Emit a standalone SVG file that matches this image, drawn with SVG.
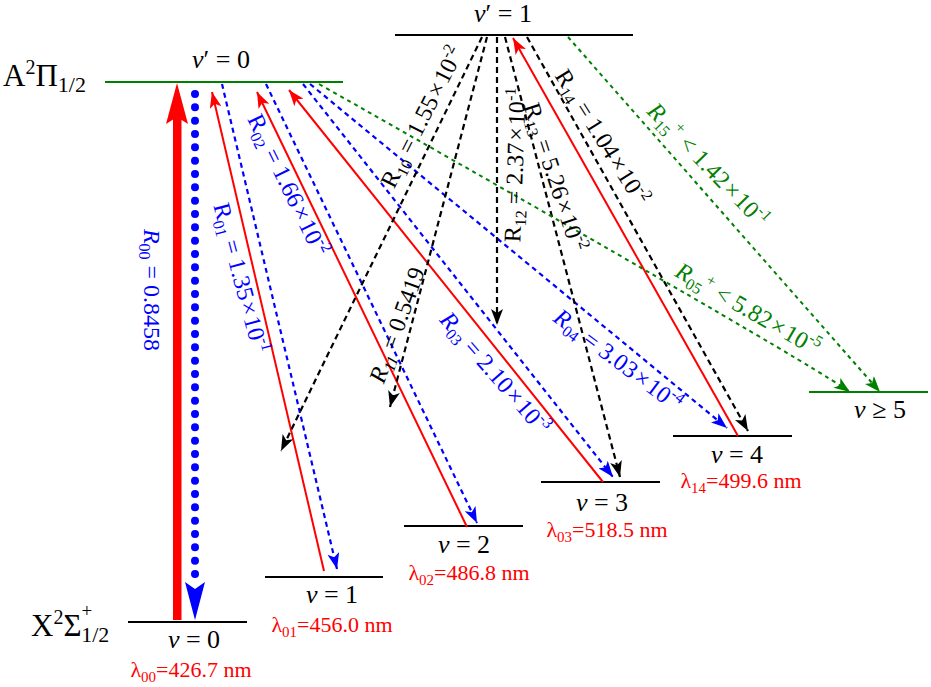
<svg xmlns="http://www.w3.org/2000/svg" width="931" height="687" viewBox="0 0 931 687" font-family="'Liberation Serif', 'DejaVu Serif', serif">
<style>
text, tspan { font-family: 'Liberation Serif', 'DejaVu Serif', serif; }
.lvk { stroke: #000; stroke-width: 2; fill: none; }
.lvg { stroke: #008000; stroke-width: 2; fill: none; }
.lab { font-size: 26px; text-anchor: middle; fill: #000; }
.wl { font-size: 22px; text-anchor: middle; fill: #ff0000; }
.rl { font-size: 24px; text-anchor: middle; }
.cb { fill: #0000ff; }
.ck { fill: #000; }
.cg { fill: #008000; }
.st { font-size: 31px; fill: #000; }
.rd { stroke: #ff0000; stroke-width: 2; fill: none; marker-end: url(#aR); }
.bd { stroke: #0000ff; stroke-width: 2.2; stroke-dasharray: 5 4; fill: none; marker-end: url(#aB); }
.kd { stroke: #000; stroke-width: 2.2; stroke-dasharray: 6 4; fill: none; marker-end: url(#aK); }
.gd { stroke: #008000; stroke-width: 2; stroke-dasharray: 4 4; fill: none; marker-end: url(#aG); }
</style>
<defs>
<marker id="aR" viewBox="0 0 16 12" refX="16" refY="6" markerWidth="17" markerHeight="12" orient="auto" markerUnits="userSpaceOnUse"><path d="M0,0 L16,6 L0,12 L4,6 Z" fill="#ff0000"/></marker>
<marker id="aB" viewBox="0 0 16 12" refX="16" refY="6" markerWidth="17" markerHeight="12" orient="auto" markerUnits="userSpaceOnUse"><path d="M0,0 L16,6 L0,12 L4,6 Z" fill="#0000ff"/></marker>
<marker id="aK" viewBox="0 0 16 12" refX="16" refY="6" markerWidth="17" markerHeight="12" orient="auto" markerUnits="userSpaceOnUse"><path d="M0,0 L16,6 L0,12 L4,6 Z" fill="#000"/></marker>
<marker id="aG" viewBox="0 0 16 12" refX="16" refY="6" markerWidth="17" markerHeight="12" orient="auto" markerUnits="userSpaceOnUse"><path d="M0,0 L16,6 L0,12 L4,6 Z" fill="#008000"/></marker>
</defs>
<rect width="931" height="687" fill="#fff"/>

<!-- state labels -->
<text class="st" x="3" y="86">A<tspan font-size="20" dy="-12">2</tspan><tspan dy="12">Π</tspan><tspan font-size="22" dy="6">1/2</tspan></text>
<text class="st" x="31" y="636">X<tspan font-size="20" dy="-12">2</tspan><tspan dy="12">Σ</tspan><tspan font-size="19" dy="-19">+</tspan><tspan font-size="22" dx="-11" dy="25">1/2</tspan></text>

<g id="A_v0">
<line class="lvg" x1="105" y1="82" x2="343" y2="82"/>
<text class="lab" x="221" y="68"><tspan font-style="italic">v</tspan>′ = 0</text>
</g>
<g id="A_v1">
<line class="lvk" x1="395" y1="35" x2="633" y2="35"/>
<text class="lab" x="503" y="22"><tspan font-style="italic">v</tspan>′ = 1</text>
</g>
<g id="X_v0">
<line class="lvk" x1="128" y1="622" x2="247" y2="622"/>
<text class="lab" x="194" y="648"><tspan font-style="italic">v</tspan> = 0</text>
<text class="wl" x="191" y="677">λ<tspan font-size="15" dy="5">00</tspan><tspan dy="-5">=426.7 nm</tspan></text>
</g>
<g id="X_v1">
<line class="lvk" x1="265" y1="577" x2="383" y2="577"/>
<text class="lab" x="332" y="603"><tspan font-style="italic">v</tspan> = 1</text>
<text class="wl" x="332" y="632">λ<tspan font-size="15" dy="5">01</tspan><tspan dy="-5">=456.0 nm</tspan></text>
</g>
<g id="X_v2">
<line class="lvk" x1="404" y1="526" x2="523" y2="526"/>
<text class="lab" x="464" y="553"><tspan font-style="italic">v</tspan> = 2</text>
<text class="wl" x="469" y="580">λ<tspan font-size="15" dy="5">02</tspan><tspan dy="-5">=486.8 nm</tspan></text>
</g>
<g id="X_v3">
<line class="lvk" x1="541" y1="482" x2="660" y2="482"/>
<text class="lab" x="602" y="511"><tspan font-style="italic">v</tspan> = 3</text>
<text class="wl" x="607" y="537">λ<tspan font-size="15" dy="5">03</tspan><tspan dy="-5">=518.5 nm</tspan></text>
</g>
<g id="X_v4">
<line class="lvk" x1="673" y1="436" x2="792" y2="436"/>
<text class="lab" x="737" y="463"><tspan font-style="italic">v</tspan> = 4</text>
<text class="wl" x="741" y="488">λ<tspan font-size="15" dy="5">14</tspan><tspan dy="-5">=499.6 nm</tspan></text>
</g>
<g id="X_v5">
<line class="lvg" x1="809" y1="392" x2="928" y2="392"/>
<text class="lab" x="880" y="418"><tspan font-style="italic">v</tspan> ≥ 5</text>
</g>

<g id="connectors">
<rect x="173" y="115" width="8.5" height="505" fill="#ff0000"/>
<path d="M177,83 L188,124 L177,117 L166,124 Z" fill="#ff0000"/>
<line x1="195" y1="94" x2="195" y2="574.5" stroke="#0000ff" stroke-width="8" stroke-linecap="round" stroke-dasharray="0 13.333"/>
<path d="M195,620 L185,582 L195,589 L205,582 Z" fill="#0000ff"/>

<line class="rd" x1="324" y1="571" x2="212" y2="92"/>
<line class="rd" x1="467" y1="527" x2="257" y2="92"/>
<line class="rd" x1="603" y1="482" x2="289" y2="90"/>
<line class="rd" x1="738" y1="436" x2="513" y2="38"/>

<line class="bd" x1="222" y1="84" x2="337" y2="569"/>
<line class="bd" x1="266" y1="84" x2="477" y2="523"/>
<line class="bd" x1="303" y1="84" x2="613" y2="477"/>
<line class="bd" x1="310" y1="84" x2="727" y2="428"/>

<line class="kd" x1="482" y1="37" x2="281" y2="451"/>
<line class="kd" x1="487" y1="37" x2="390" y2="407"/>
<line class="kd" x1="497" y1="37" x2="497" y2="325"/>
<line class="kd" x1="505" y1="37" x2="620" y2="477"/>
<line class="kd" x1="527" y1="37" x2="748" y2="431"/>

<path class="gd" d="M319,84 Q797,355 850,392"/>
<line class="gd" x1="568" y1="37" x2="880" y2="392"/>
</g>

<g id="labels">
<text class="rl cb" transform="translate(152,290) rotate(90)" y="8"><tspan font-style="italic">R</tspan><tspan font-size="16" dy="5">00</tspan><tspan dy="-5"> = 0.8458</tspan></text>
<text class="rl cb" transform="translate(241,278) rotate(75)" y="8">R<tspan font-size="16" dy="5">01</tspan><tspan dy="-5"> = 1.35</tspan><tspan dx="2">×</tspan><tspan dx="2">10</tspan><tspan font-size="16" dy="-10">-1</tspan></text>
<text class="rl cb" transform="translate(288,185) rotate(64)" y="8">R<tspan font-size="16" dy="5">02</tspan><tspan dy="-5"> = 1.66</tspan><tspan dx="2">×</tspan><tspan dx="2">10</tspan><tspan font-size="16" dy="-10">-2</tspan></text>
<text class="rl cb" transform="translate(495,373) rotate(49)" y="8"><tspan font-style="italic">R</tspan><tspan font-size="16" dy="5">03</tspan><tspan dy="-5"> = 2.10</tspan><tspan dx="2">×</tspan><tspan dx="2">10</tspan><tspan font-size="16" dy="-10">-3</tspan></text>
<text class="rl cb" transform="translate(618,360) rotate(37)" y="8"><tspan font-style="italic">R</tspan><tspan font-size="16" dy="5">04</tspan><tspan dy="-5"> = 3.03</tspan><tspan dx="2">×</tspan><tspan dx="2">10</tspan><tspan font-size="16" dy="-10">-4</tspan></text>
<text class="rl cg" transform="translate(748,309) rotate(30)" y="8"><tspan font-style="italic">R</tspan><tspan font-size="16" dy="5">05</tspan><tspan font-size="16" dy="-14">+</tspan><tspan dy="9"> &lt; 5.82</tspan><tspan dx="2">×</tspan><tspan dx="2">10</tspan><tspan font-size="16" dy="-10">-5</tspan></text>
<text class="rl cg" transform="translate(708,165) rotate(46)" y="8"><tspan font-style="italic">R</tspan><tspan font-size="16" dy="5">15</tspan><tspan font-size="16" dy="-14">+</tspan><tspan dy="9"> &lt; 1.42</tspan><tspan dx="2">×</tspan><tspan dx="2">10</tspan><tspan font-size="16" dy="-10">-1</tspan></text>
<text class="rl ck" transform="translate(422,117) rotate(-63)" y="8">R<tspan font-size="16" dy="5">10</tspan><tspan dy="-5"> = 1.55</tspan><tspan dx="2">×</tspan><tspan dx="2">10</tspan><tspan font-size="16" dy="-10">-2</tspan></text>
<text class="rl ck" transform="translate(397,325) rotate(-70)" y="8"><tspan font-style="italic">R</tspan><tspan font-size="16" font-style="italic" dy="5">11</tspan><tspan dy="-5"> = 0.5419</tspan></text>
<text class="rl ck" transform="translate(515,165) rotate(-88)" y="8">R<tspan font-size="16" dy="5">12</tspan><tspan dy="-5"> = 2.37</tspan><tspan dx="2">×</tspan><tspan dx="2">10</tspan><tspan font-size="16" dy="-10">-1</tspan></text>
<text class="rl ck" transform="translate(555,177) rotate(72)" y="8">R<tspan font-size="16" dy="5">13</tspan><tspan dy="-5"> = 5.26</tspan><tspan dx="2">×</tspan><tspan dx="2">10</tspan><tspan font-size="16" dy="-10">-2</tspan></text>
<text class="rl ck" transform="translate(602,137) rotate(58)" y="8">R<tspan font-size="16" dy="5">14</tspan><tspan dy="-5"> = 1.04</tspan><tspan dx="2">×</tspan><tspan dx="2">10</tspan><tspan font-size="16" dy="-10">-2</tspan></text>
</g>
</svg>
